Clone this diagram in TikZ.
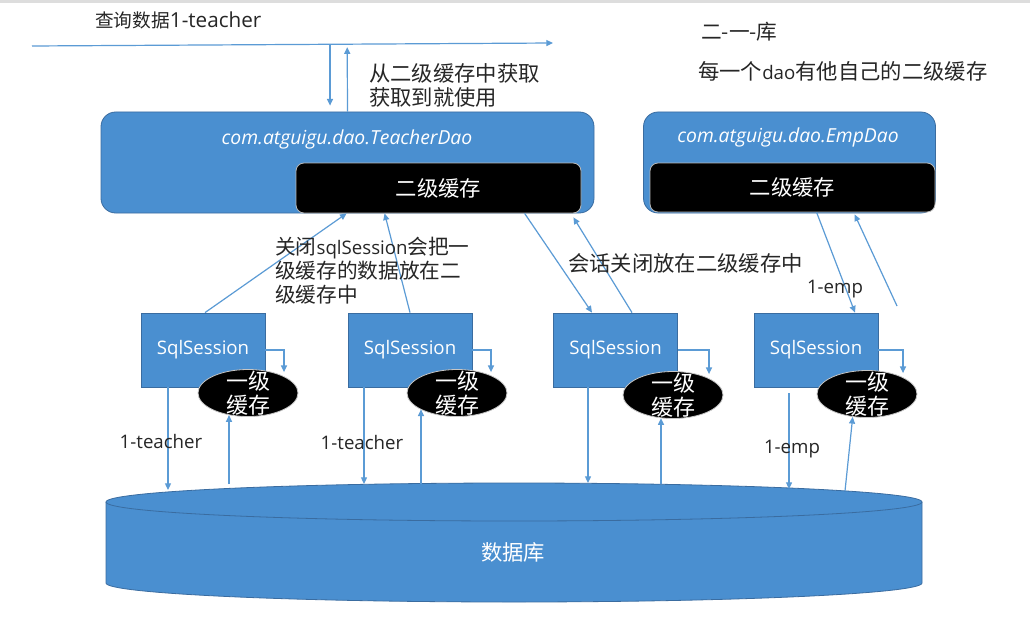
\documentclass[tikz,border=0pt]{standalone}
\usepackage{fontspec}
\setmainfont{Open Sans}
\newfontfamily\cjk{Noto Sans CJK SC}
\usetikzlibrary{arrows.meta,shapes.geometric,calc}
\definecolor{boxblue}{RGB}{74,143,208}
\definecolor{boxedge}{RGB}{58,108,160}
\definecolor{linkblue}{RGB}{91,155,213}
\definecolor{inktext}{RGB}{38,38,38}
\definecolor{topband}{RGB}{221,221,221}
\def\px{0.75pt}
\newcommand\zhtext[1]{{\cjk\fontsize{15.5}{18}\selectfont #1}}

\begin{document}
\begin{tikzpicture}[x=0.75pt,y=-0.75pt,
  link/.style={draw=linkblue,line width=0.9pt,-{Triangle[length=5pt,width=4.5pt]}},
  daobox/.style={draw=boxedge,line width=0.6pt,fill=boxblue,rounded corners=11pt,inner sep=0pt},
  daotitle/.style={text=white,inner sep=0pt,font=\itshape\fontsize{14.5}{16}\selectfont},
  cachebox/.style={draw=gray!55,line width=0.6pt,fill=black,rounded corners=6pt,inner sep=0pt,
    text=white,font=\cjk\fontsize{16}{18}\selectfont},
  sessbox/.style={draw=boxedge,line width=0.6pt,fill=boxblue,minimum width=124*\px,
    minimum height=74*\px,inner sep=0pt,text=white,font=\fontsize{14}{16}\selectfont},
  lonecache/.style={ellipse,draw=gray!45,line width=0.6pt,fill=black,minimum width=100*\px,
    minimum height=47*\px,inner sep=0pt},
  lonetext/.style={text=white,align=center,inner sep=0pt,font=\cjk\fontsize{16.5}{17.5}\selectfont},
  note/.style={text=inktext,align=left,inner sep=0pt,anchor=west},
  lbl/.style={text=inktext,inner sep=0pt,font=\fontsize{14}{16}\selectfont}]

% canvas
\fill[white] (0,0) rectangle (1030,631);
\fill[topband] (0,0) rectangle (1030,3);
\useasboundingbox (0,0) rectangle (1030,631);

% database cylinder
\filldraw[fill=boxblue,draw=boxedge,line width=0.6pt]
  (106,502) -- (106,583) arc[start angle=180,end angle=360,x radius=306pt,y radius=14.25pt]
  -- (922,502) arc[start angle=0,end angle=180,x radius=306pt,y radius=14.25pt] -- cycle;
\draw[boxedge,line width=0.6pt] (106,502) arc[start angle=180,end angle=360,x radius=306pt,y radius=14.25pt];
\node[text=white,font=\cjk\fontsize{16}{18}\selectfont] (db) at (513,552) {数据库};

% mapper (dao) boxes with their second-level caches
\node[daobox,minimum width=493*\px,minimum height=101*\px] (tdao) at (347.5,162.5) {};
\node[daotitle] (ttitle) at (347,139) {com.atguigu.dao.TeacherDao};
\node[cachebox,minimum width=285*\px,minimum height=50*\px] (tcache) at (438.5,188) {二级缓存};

\node[daobox,minimum width=292*\px,minimum height=101*\px] (edao) at (789.5,162.5) {};
\node[daotitle] (etitle) at (788,137) {com.atguigu.dao.EmpDao};
\node[cachebox,minimum width=285*\px,minimum height=49*\px] (ecache) at (792.5,187.5) {二级缓存};

% sessions and their first-level caches
\node[sessbox] (s1) at (203,350) {SqlSession};
\node[sessbox] (s2) at (410,350) {SqlSession};
\node[sessbox] (s3) at (615.5,350) {SqlSession};
\node[sessbox] (s4) at (816,350) {SqlSession};

\node[lonecache] (e1) at (248,393) {};
\node[lonecache] (e2) at (457,393) {};
\node[lonecache] (e3) at (673,395) {};
\node[lonecache] (e4) at (867,394) {};
\node[lonetext] (e1t) at (e1) {一级\\缓存};
\node[lonetext] (e2t) at (e2) {一级\\缓存};
\node[lonetext] (e3t) at (e3) {一级\\缓存};
\node[lonetext] (e4t) at (e4) {一级\\缓存};

% query line
\coordinate (qstart) at (32,46);
\coordinate (qend) at (553,43);
\draw[link] (qstart) -- (qend);
\coordinate (qdown) at ($(qstart)!0.572!(qend)$);
\coordinate (qup) at ($(qstart)!0.605!(qend)$);
\draw[link] (qdown) -- ($(qdown |- tdao.north)+(0,-6)$);
\draw[link] (tdao.north) -- ($(qup)+(0,3)$);

% session <-> second-level cache
\draw[link] ($(s1.north)+(2,0)$) -- ($(tcache.south west)+(51,0)$);
\draw[link] (s2.north) -- ($(tcache.south west)+(89,0)$);
\draw[link] ($(tcache.south west)+(229,0)$) -- ($(s3.north)+(-23.5,0)$);
\draw[link] ($(s3.north)+(16.5,0)$) -- ($(tcache.south east)+(-8,4)$);
\draw[link] ($(ecache.south west)+(167,0)$) -- ($(s4.north)+(39,0)$);
\coordinate (efree) at (897,306);
\draw[link] (efree) -- ($(ecache.south west)+(205,2)$);

% session -> own first-level cache
\draw[link] (s1.east) -| ($(e1.north)+(36,3)$);
\draw[link] (s2.east) -| ($(e2.north)+(34,3)$);
\draw[link] (s3.east) -| ($(e3.north)+(36,3)$);
\draw[link] (s4.east) -| ($(e4.north)+(36,3)$);

% session <-> database
\coordinate (t1) at (168,490);
\coordinate (u1) at (229,484);
\coordinate (t2) at (364,484);
\coordinate (u2) at (421,484);
\coordinate (t3) at (588,483);
\coordinate (u3) at (661,484);
\coordinate (t4) at (789,489);
\coordinate (u4) at (845,491);
\draw[link] (s1.south -| t1) -- (t1);
\draw[link] (u1) -- (u1 |- e1.229);
\draw[link] (s2.south -| t2) -- (t2);
\draw[link] (u2) -- (u2 |- e2.204);
\draw[link] (s3.south -| t3) -- (t3);
\draw[link] (u3) -- (u3 |- e3.242);
\draw[link] ($(s4.south -| t4)+(0,6)$) -- (t4);
\draw[link] (u4) -- (e4.238);

% texts
\node[note,font=\fontsize{15.5}{18}\selectfont] (query) at (95,20)
  {{\cjk\fontsize{14}{18}\selectfont 查询数据}1-teacher};
\node[note,font=\cjk\fontsize{16}{18}\selectfont] (fetch) at (369,85) {从二级缓存中获取\\获取到就使用};
\node[note,font=\cjk\fontsize{15.5}{18}\selectfont] (rule) at (701,32) {二-一-库};
\node[note,font=\cjk\fontsize{16}{18}\selectfont] (percache) at (698,71)
  {每一个{\rmfamily\fontsize{14}{18}\selectfont dao}有他自己的二级缓存};
\node[note,font=\fontsize{14}{18}\selectfont] (closenote) at (275,271)
  {\zhtext{关闭}sqlSession\zhtext{会把一}\\\zhtext{级缓存的数据放在二}\\\zhtext{级缓存中}};
\node[note,font=\cjk\fontsize{16}{18}\selectfont] (sessnote) at (568,263) {会话关闭放在二级缓存中};
\node[lbl] (teach1) at (161,441) {1-teacher};
\node[lbl] (teach2) at (362,442) {1-teacher};
\node[lbl] (emp1) at (835,289) {1-emp};
\node[lbl] (emp2) at (792,449) {1-emp};
\end{tikzpicture}
\end{document}
